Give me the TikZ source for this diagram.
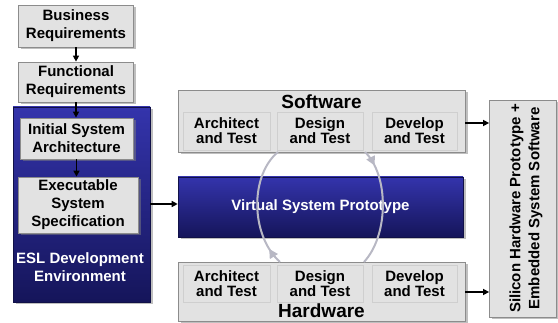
\documentclass[tikz,border=0pt]{standalone}
\usepackage{fontspec}
\setmainfont{Liberation Sans}
\usetikzlibrary{arrows.meta,shadows,decorations.markings,calc}
\definecolor{boxgray}{HTML}{E2E2E2}
\definecolor{boxedge}{HTML}{8C8C8C}
\definecolor{subedge}{HTML}{CFCFCF}
\definecolor{bluetop}{HTML}{3434AC}
\definecolor{bluebot}{HTML}{15155A}
\definecolor{arcgray}{HTML}{B8B8C4}
\begin{document}
\begin{tikzpicture}[x=1pt,y=-1pt,
  font=\bfseries\fontsize{15}{18}\selectfont,
  gbox/.style={draw=boxedge, line width=0.8pt, fill=boxgray, align=center, inner sep=0pt,
    drop shadow={shadow xshift=2.5pt, shadow yshift=-2.5pt, opacity=0.5}},
  subbox/.style={draw=subedge, line width=0.6pt, fill=boxgray, align=center, inner sep=0pt,
    minimum height=38pt, font=\bfseries\fontsize{15}{15}\selectfont},
  bbox/.style={draw=bluebot!80!black, line width=0.6pt, top color=bluetop, bottom color=bluebot,
    inner sep=0pt, drop shadow={shadow xshift=2.5pt, shadow yshift=-2.5pt, opacity=0.5}},
  title/.style={font=\bfseries\fontsize{19}{19}\selectfont, inner sep=0pt},
  wtext/.style={text=white, align=center, inner sep=0pt},
  arr/.style={line width=1.6pt, -{Triangle[length=6pt,width=6pt]}},
  arcst/.style={draw=arcgray, line width=2pt,
    postaction={decorate, decoration={markings,
      mark=at position 0.14 with {\arrow[arcgray]{Triangle[length=9pt,width=9pt]}},
      mark=at position 1 with {\arrow[arcgray]{Triangle[length=9pt,width=9pt]}}}}}
]
\useasboundingbox (0,0) rectangle (558,323);

% left column
\node[gbox, minimum width=115pt, minimum height=42pt] (br) at (76,26) {Business\\Requirements};
\node[gbox, minimum width=115pt, minimum height=40pt] (fr) at (76,82) {Functional\\Requirements};
\node[bbox, minimum width=137pt, minimum height=195pt] (esl) at (81.5,204.5) {};
\node[gbox, minimum width=113pt, minimum height=41pt] (isa) at (76.5,138.5) {Initial System\\Architecture};
\node[gbox, minimum width=120pt, minimum height=56pt] (ess) at (78,205) {Executable\\System\\Specification};
\node[wtext] (esllbl) at (80,267) {ESL Development\\Environment};

\draw[arr] (br.south) -- (br.south |- fr.north);
\draw[arr] (fr.south) -- (fr.south |- isa.north);
\draw[arr] (isa.south) -- (isa.south |- ess.north);

% software
\node[gbox, minimum width=287pt, minimum height=62pt] (sw) at (321.5,121) {};
\node[title] (swt) at (321.5,102) {Software};
\node[subbox, minimum width=87pt] (swa) at (226.5,131) {Architect\\and Test};
\node[subbox, minimum width=86pt] (swd) at (320,131) {Design\\and Test};
\node[subbox, minimum width=85pt] (swv) at (414.5,131) {Develop\\and Test};

% virtual system prototype
\node[bbox, minimum width=285pt, minimum height=60pt] (vsp) at (320.5,207) {};
\node[wtext] (vspt) at (320.5,207) {Virtual System Prototype};

% hardware
\node[gbox, minimum width=287pt, minimum height=59pt] (hw) at (321.5,291.5) {};
\node[subbox, minimum width=87pt, minimum height=37pt] (hwa) at (226.5,283.5) {Architect\\and Test};
\node[subbox, minimum width=86pt, minimum height=37pt] (hwd) at (320,283.5) {Design\\and Test};
\node[subbox, minimum width=85pt, minimum height=37pt] (hwv) at (414.5,283.5) {Develop\\and Test};
\node[title] (hwt) at (321.5,310.5) {Hardware};

% silicon
\node[gbox, minimum width=67pt, minimum height=217pt] (sil) at (523,208.5) {};
\node[rotate=90, align=center, inner sep=0pt, font=\bfseries\fontsize{15}{19}\selectfont] (silt) at (526,208.5)
  {Silicon Hardware Prototype +\\Embedded System Software};

% connectors
\draw[arr] (esl.east |- 0,204) coordinate (e1) -- (e1 -| vsp.west);
\draw[arr] (sw.east |- 0,123) coordinate (s1) -- (s1 -| sil.west);
\draw[arr] (hw.east |- 0,292) coordinate (h1) -- (h1 -| sil.west);

% cycle arcs
\coordinate (la) at (280,262);
\coordinate (lb) at (278,152);
\coordinate (ra) at (365,152);
\coordinate (rb) at (364,262);
\draw[arcst] (la) .. controls (250,235) and (250,175) .. (lb);
\draw[arcst] (ra) .. controls (389,175) and (389,235) .. (rb);
\end{tikzpicture}
\end{document}
